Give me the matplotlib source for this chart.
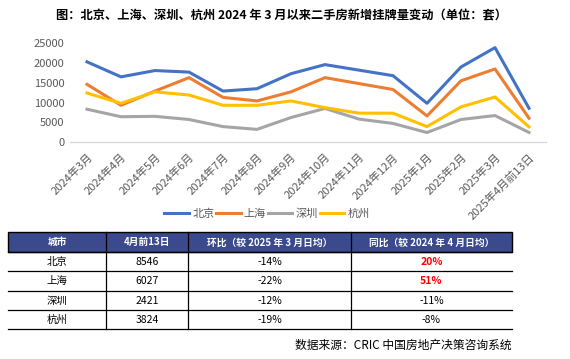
import matplotlib
matplotlib.use("Agg")
import matplotlib.pyplot as plt
from matplotlib.patches import Rectangle
from matplotlib.lines import Line2D

plt.rcParams['font.family'] = ['Noto Sans CJK SC', 'DejaVu Sans']

months = ["2024年3月", "2024年4月", "2024年5月", "2024年6月", "2024年7月", "2024年8月",
          "2024年9月", "2024年10月", "2024年11月", "2024年12月", "2025年1月", "2025年2月",
          "2025年3月", "2025年4月前13日"]
beijing = [20300, 16500, 18100, 17700, 12900, 13500, 17300, 19600, 18200, 16800, 9800, 19000, 23900, 8546]
shanghai = [14600, 9300, 12900, 16300, 11300, 10400, 12700, 16300, 14800, 13300, 6600, 15500, 18500, 6027]
shenzhen = [8300, 6400, 6500, 5700, 3900, 3200, 6200, 8500, 5800, 4700, 2400, 5700, 6700, 2421]
hangzhou = [12400, 9800, 12700, 11900, 9300, 9300, 10400, 8700, 7300, 7300, 3900, 8900, 11400, 3824]

series_names = ["北京", "上海", "深圳", "杭州"]
series_colors = ["#4472C4", "#ED7D31", "#A5A5A5", "#FFC000"]

table_header = ["城市", "4月前13日", "环比（较 2025 年 3 月日均）", "同比（较 2024 年 4 月日均）"]
table_cities = ["北京", "上海", "深圳", "杭州"]
table_april = ["8546", "6027", "2421", "3824"]
table_mom = ["-14%", "-22%", "-12%", "-19%"]
table_yoy = ["20%", "51%", "-11%", "-8%"]

W, H = 570, 359
fig = plt.figure(figsize=(W / 100, H / 100), dpi=100)

def fx(x):
    return x / W

def fy(y):
    return 1 - y / H

# Title
fig.text(fx(282), fy(16), "图：北京、上海、深圳、杭州 2024 年 3 月以来二手房新增挂牌量变动（单位：套）",
         ha='center', va='center', fontsize=8.8, fontweight='bold', color='black')

# Chart axes
ax_l, ax_r, ax_t, ax_b = 70, 546, 43.3, 142
ax = fig.add_axes([fx(ax_l), fy(ax_b), fx(ax_r - ax_l), (ax_b - ax_t) / H])
x = list(range(len(months)))
for vals, c, n in zip([beijing, shanghai, shenzhen, hangzhou], series_colors, series_names):
    ax.plot(x, vals, color=c, lw=2.2, label=n, solid_joinstyle='round')
ax.set_xlim(-0.5, len(months) - 0.5)
ax.set_ylim(0, 25000)
ax.set_yticks([0, 5000, 10000, 15000, 20000, 25000])
ax.set_xticks(x)
ax.set_xticklabels(months, rotation=45, ha='right', rotation_mode='anchor')
ax.tick_params(axis='both', length=0, labelsize=8, colors='#595959', pad=4)
ax.tick_params(axis='x', pad=7)
for s in ['top', 'right', 'left']:
    ax.spines[s].set_visible(False)
ax.spines['bottom'].set_color('#D9D9D9')
ax.spines['bottom'].set_linewidth(1)

handles = [Line2D([0], [0], color=c, lw=2.2) for c in series_colors]
fig.legend(handles, series_names, loc='center', bbox_to_anchor=(fx(267), fy(214)),
           ncol=4, frameon=False, fontsize=8, handlelength=2.2, handletextpad=0.3,
           columnspacing=0.15, labelcolor='#595959')

# Table
tl, tr = 8, 512
col_x = [8, 106, 188.3, 350.7, 512]
row_y = [232.3, 252.3, 271.3, 291, 310.3, 329.3]
header_color = '#3A4A8C'
fig.patches.append(Rectangle((fx(tl), fy(row_y[1])), fx(tr - tl), (row_y[1] - row_y[0]) / H,
                             transform=fig.transFigure, facecolor=header_color,
                             edgecolor='black', lw=1.0))
for cx in col_x[1:-1]:
    fig.add_artist(Line2D([fx(cx), fx(cx)], [fy(row_y[0]), fy(row_y[-1])], color='black', lw=0.9))
for ry in row_y[1:]:
    fig.add_artist(Line2D([fx(tl), fx(tr)], [fy(ry), fy(ry)], color='black', lw=0.9))

centers = [(col_x[i] + col_x[i + 1]) / 2 for i in range(4)]
hy = (row_y[0] + row_y[1]) / 2
for cxx, t in zip(centers, table_header):
    fig.text(fx(cxx), fy(hy), t, ha='center', va='center', fontsize=7,
             fontweight='bold', color='white')
for i in range(4):
    ry = (row_y[i + 1] + row_y[i + 2]) / 2
    vals = [table_cities[i], table_april[i], table_mom[i], table_yoy[i]]
    for j, (cxx, t) in enumerate(zip(centers, vals)):
        red = (j == 3 and not t.startswith('-'))
        fig.text(fx(cxx), fy(ry), t, ha='center', va='center', fontsize=7.5,
                 color='red' if red else 'black', fontweight='bold' if red else 'normal')

fig.text(fx(512), fy(345), "数据来源：CRIC 中国房地产决策咨询系统", ha='right', va='center',
         fontsize=8.5, color='black')

fig.savefig("out.png", dpi=100)
